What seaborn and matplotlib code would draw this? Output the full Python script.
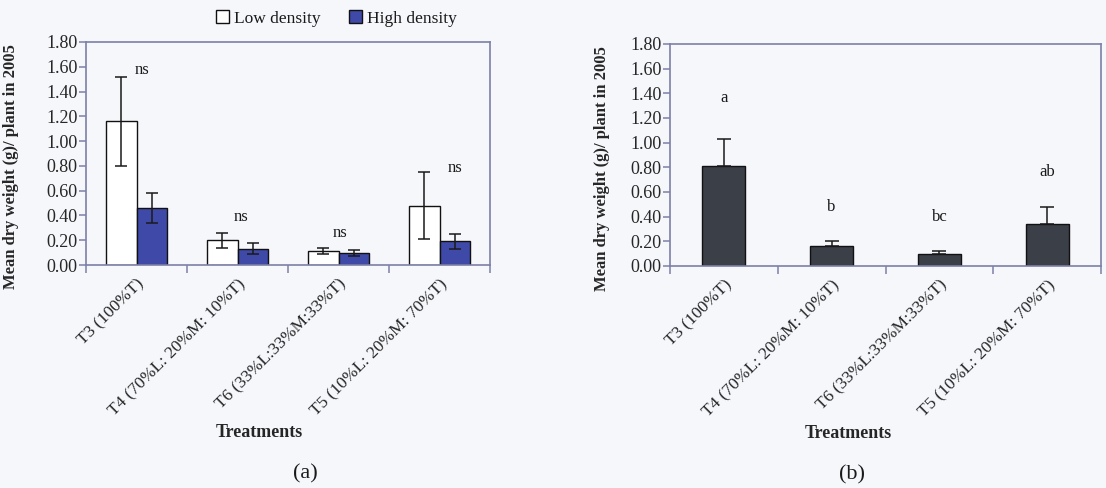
import numpy as np
import pandas as pd
import matplotlib
matplotlib.use("Agg")
import matplotlib.pyplot as plt
import seaborn as sns

# ---------------- data ----------------
treatments = ["T3 (100%T)", "T4 (70%L: 20%M: 10%T)",
              "T6 (33%L:33%M:33%T)", "T5 (10%L: 20%M: 70%T)"]
densities = ["Low density", "High density"]

low_mean = [1.16, 0.20, 0.11, 0.48]
low_err = [0.36, 0.06, 0.025, 0.27]
high_mean = [0.46, 0.13, 0.10, 0.19]
high_err = [0.125, 0.045, 0.025, 0.06]
sig_a = ["ns", "ns", "ns", "ns"]
sig_a_y = [1.57, 0.39, 0.26, 0.78]
sig_a_dx = [0.05, 0.04, 0.02, 0.15]

b_mean = [0.81, 0.16, 0.10, 0.34]
b_err = [0.22, 0.04, 0.02, 0.14]
sig_b = ["a", "b", "bc", "ab"]
sig_b_y = [1.36, 0.48, 0.40, 0.76]

yticks = [0.0, 0.2, 0.4, 0.6, 0.8, 1.0, 1.2, 1.4, 1.6, 1.8]

# ---------------- style ----------------
sns.set_theme(style="white")
bg = "#f6f7fb"
spine_c = "#7d80a8"
plt.rcParams["font.family"] = ["Liberation Serif", "DejaVu Serif"]
plt.rcParams["text.color"] = "#1a1a1a"

fig = plt.figure(figsize=(11.06, 4.88), dpi=100, facecolor=bg)
W, H = 1106, 488


def make_ax(x0, x1, ytop, ybot):
    return fig.add_axes([x0 / W, (H - ybot) / H, (x1 - x0) / W, (ybot - ytop) / H])


axA = make_ax(86, 490, 42, 265)
axB = make_ax(670, 1101, 44, 266)

df_a = pd.DataFrame({
    "treatment": treatments * 2,
    "density": [densities[0]] * 4 + [densities[1]] * 4,
    "value": low_mean + high_mean,
})
df_b = pd.DataFrame({"treatment": treatments, "value": b_mean})

sns.barplot(data=df_a, x="treatment", y="value", hue="density",
            hue_order=densities, order=treatments,
            palette={"Low density": "white", "High density": "#3f4aa8"},
            edgecolor="#111111", linewidth=1.0, width=0.6, errorbar=None,
            saturation=1, ax=axA)
sns.barplot(data=df_b, x="treatment", y="value", order=treatments,
            color="#3b3f47", edgecolor="#111111", linewidth=1.0, width=0.4,
            errorbar=None, saturation=1, ax=axB)

idx = np.arange(len(treatments))
axA.errorbar(idx - 0.15, low_mean, yerr=low_err, fmt="none", ecolor="#1a1a1a",
             elinewidth=1.1, capsize=4, capthick=1.1)
axA.errorbar(idx + 0.15, high_mean, yerr=high_err, fmt="none", ecolor="#1a1a1a",
             elinewidth=1.1, capsize=4, capthick=1.1)
axB.errorbar(idx, b_mean, yerr=[np.zeros(4), b_err], fmt="none", ecolor="#1a1a1a",
             elinewidth=1.1, capsize=5, capthick=1.1)

for i, (t, y, dx) in enumerate(zip(sig_a, sig_a_y, sig_a_dx)):
    axA.text(i + dx, y, t, ha="center", va="center", fontsize=12)
for i, (t, y) in enumerate(zip(sig_b, sig_b_y)):
    axB.text(i, y, t, ha="center", va="center", fontsize=12)

for ax, lab_x, xl_x in [(axA, -0.165, 0.43), (axB, -0.139, 0.413)]:
    ax.set_facecolor(bg)
    ax.set_xlim(-0.5, 3.5)
    ax.set_ylim(0, 1.8)
    ax.set_yticks(yticks)
    ax.set_yticklabels([f"{v:.2f}" for v in yticks], fontsize=13)
    ax.set_xticks(idx)
    ax.set_xticklabels(treatments, rotation=45, ha="right", rotation_mode="anchor",
                       fontsize=12.5)
    ax.set_xticks(np.arange(-0.5, 4, 1), minor=True)
    ax.tick_params(axis="x", which="major", length=0, pad=8)
    ax.tick_params(axis="x", which="minor", length=6, width=1.1, color=spine_c,
                   direction="out", bottom=True)
    ax.tick_params(axis="y", which="major", length=5, width=1.1, color=spine_c,
                   direction="out", left=True, pad=1)
    for s in ax.spines.values():
        s.set_visible(True)
        s.set_color(spine_c)
        s.set_linewidth(1.2)
    ax.set_ylabel("Mean dry weight (g)/ plant in 2005", fontsize=12, fontweight="bold")
    ax.yaxis.set_label_coords(lab_x, 0.44)
    ax.set_xlabel("Treatments", fontsize=13, fontweight="bold")
    ax.xaxis.set_label_coords(xl_x, -0.715)

leg = axA.legend(loc="center", bbox_to_anchor=(0.62, 1.105), ncol=2, frameon=False,
                 fontsize=12.5, handlelength=0.75, handleheight=0.75,
                 handletextpad=0.3, columnspacing=1.6)
for h in leg.legend_handles:
    h.set_edgecolor("#111111")
    h.set_linewidth(1.0)

fig.text(305 / W, 1 - 474 / H, "(a)", ha="center", va="center", fontsize=16)
fig.text(852 / W, 1 - 475 / H, "(b)", ha="center", va="center", fontsize=16)

fig.savefig("out.png", dpi=100, facecolor=bg)
